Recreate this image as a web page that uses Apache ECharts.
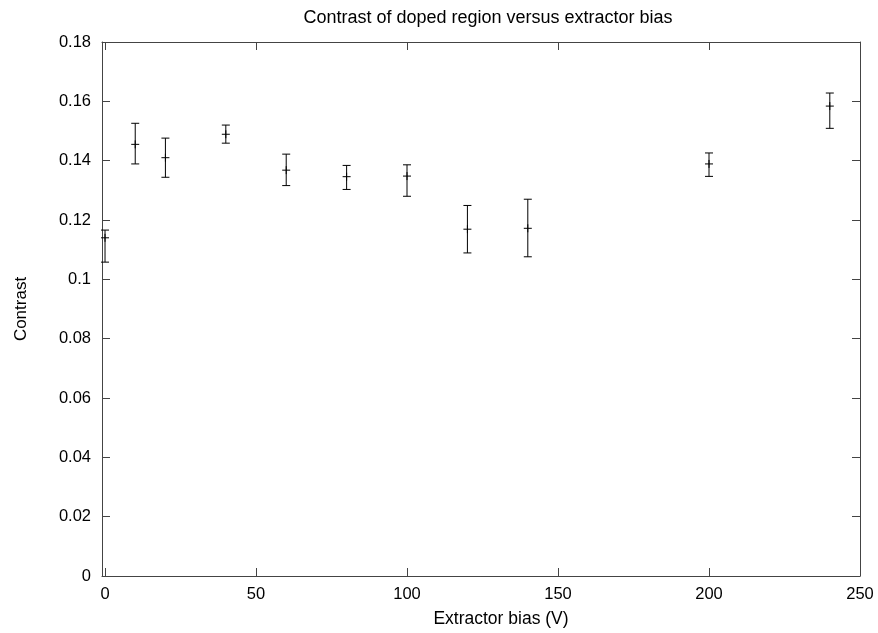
<!DOCTYPE html>
<html>
<head>
<meta charset="utf-8">
<script src="https://cdn.jsdelivr.net/npm/echarts@6/dist/echarts.min.js"></script>
<style>
  html, body { margin: 0; padding: 0; background: #fff; }
  #chart { width: 878px; height: 633px; }
</style>
</head>
<body>
<div id="chart"></div>
<script>
// 数据：extractor bias (V) 与对比度，以及误差棒上下界
const bias = [0, 10, 20, 40, 60, 80, 100, 120, 140, 200, 240];
const contrast = [0.1140, 0.1455, 0.1410, 0.1489, 0.1368, 0.1346, 0.1348, 0.1169, 0.1172, 0.1389, 0.1584];
const errLow = [0.1058, 0.1389, 0.1344, 0.1459, 0.1316, 0.1303, 0.1280, 0.1089, 0.1076, 0.1347, 0.1509];
const errHigh = [0.1166, 0.1526, 0.1476, 0.1520, 0.1422, 0.1384, 0.1386, 0.1249, 0.1270, 0.1426, 0.1628];
const xTicks = [0, 50, 100, 150, 200, 250];

const chart = echarts.init(document.getElementById('chart'));

const font = 'Liberation Sans, Arial, sans-serif';
const axisColor = '#444';

const errData = bias.map((b, i) => [b, errLow[i], errHigh[i], contrast[i]]);

// 误差棒 + 中心点 '+'
const renderErr = (params, api) => {
    const x = api.value(0);
    const lo = api.coord([x, api.value(1)]);
    const hi = api.coord([x, api.value(2)]);
    const c = api.coord([x, api.value(3)]);
    const cap = 4;
    const style = { stroke: '#000', lineWidth: 1 };
    const line = (x1, y1, x2, y2) => ({ type: 'line', shape: { x1, y1, x2, y2 }, style });
    return {
        type: 'group',
        children: [
            line(lo[0], lo[1], hi[0], hi[1]),
            line(lo[0] - cap, lo[1], lo[0] + cap, lo[1]),
            line(hi[0] - cap, hi[1], hi[0] + cap, hi[1]),
            line(c[0] - 4, c[1], c[0] + 4, c[1]),
            line(c[0], c[1] - 4, c[0], c[1] + 4)
        ]
    };
};

const baseX = {
    type: 'value',
    min: -1,
    max: 250,
    axisLine: { show: true, onZero: false, lineStyle: { color: axisColor, width: 1 } },
    axisTick: { show: true, inside: true, length: 8, customValues: xTicks, lineStyle: { color: axisColor } },
    splitLine: { show: false }
};
const baseY = {
    type: 'value',
    min: 0,
    max: 0.18,
    interval: 0.02,
    axisLine: { show: true, onZero: false, lineStyle: { color: axisColor, width: 1 } },
    axisTick: { show: true, inside: true, length: 8, lineStyle: { color: axisColor } },
    splitLine: { show: false }
};

const option = {
    animation: false,
    title: {
        text: 'Contrast of doped region versus extractor bias',
        left: 483,
        textAlign: 'center',
        top: 4,
        textStyle: { fontFamily: font, fontSize: 18, fontWeight: 'normal', color: '#000' }
    },
    grid: { left: 102, right: 18, top: 42, bottom: 57 },
    xAxis: [
        {
            ...baseX,
            position: 'bottom',
            name: 'Extractor bias (V)',
            nameLocation: 'middle',
            nameGap: 34,
            // 标签中心略偏右
            nameTextStyle: { fontFamily: font, fontSize: 17.5, color: '#000', padding: [0, 0, 0, 40] },
            axisLabel: { customValues: xTicks, margin: 10, fontFamily: font, fontSize: 16.5, color: '#000' }
        },
        { ...baseX, position: 'top', axisLabel: { show: false } }
    ],
    yAxis: [
        {
            ...baseY,
            position: 'left',
            name: 'Contrast',
            nameLocation: 'middle',
            nameGap: 72,
            nameRotate: 90,
            nameTextStyle: { fontFamily: font, fontSize: 17, color: '#000' },
            axisLabel: { margin: 11, fontFamily: font, fontSize: 16.5, color: '#000' }
        },
        { ...baseY, position: 'right', axisLabel: { show: false } }
    ],
    series: [
        {
            type: 'custom',
            xAxisIndex: 0,
            yAxisIndex: 0,
            renderItem: renderErr,
            encode: { x: 0, y: [1, 2, 3] },
            data: errData,
            z: 5
        }
    ]
};

chart.setOption(option);
</script>
</body>
</html>
